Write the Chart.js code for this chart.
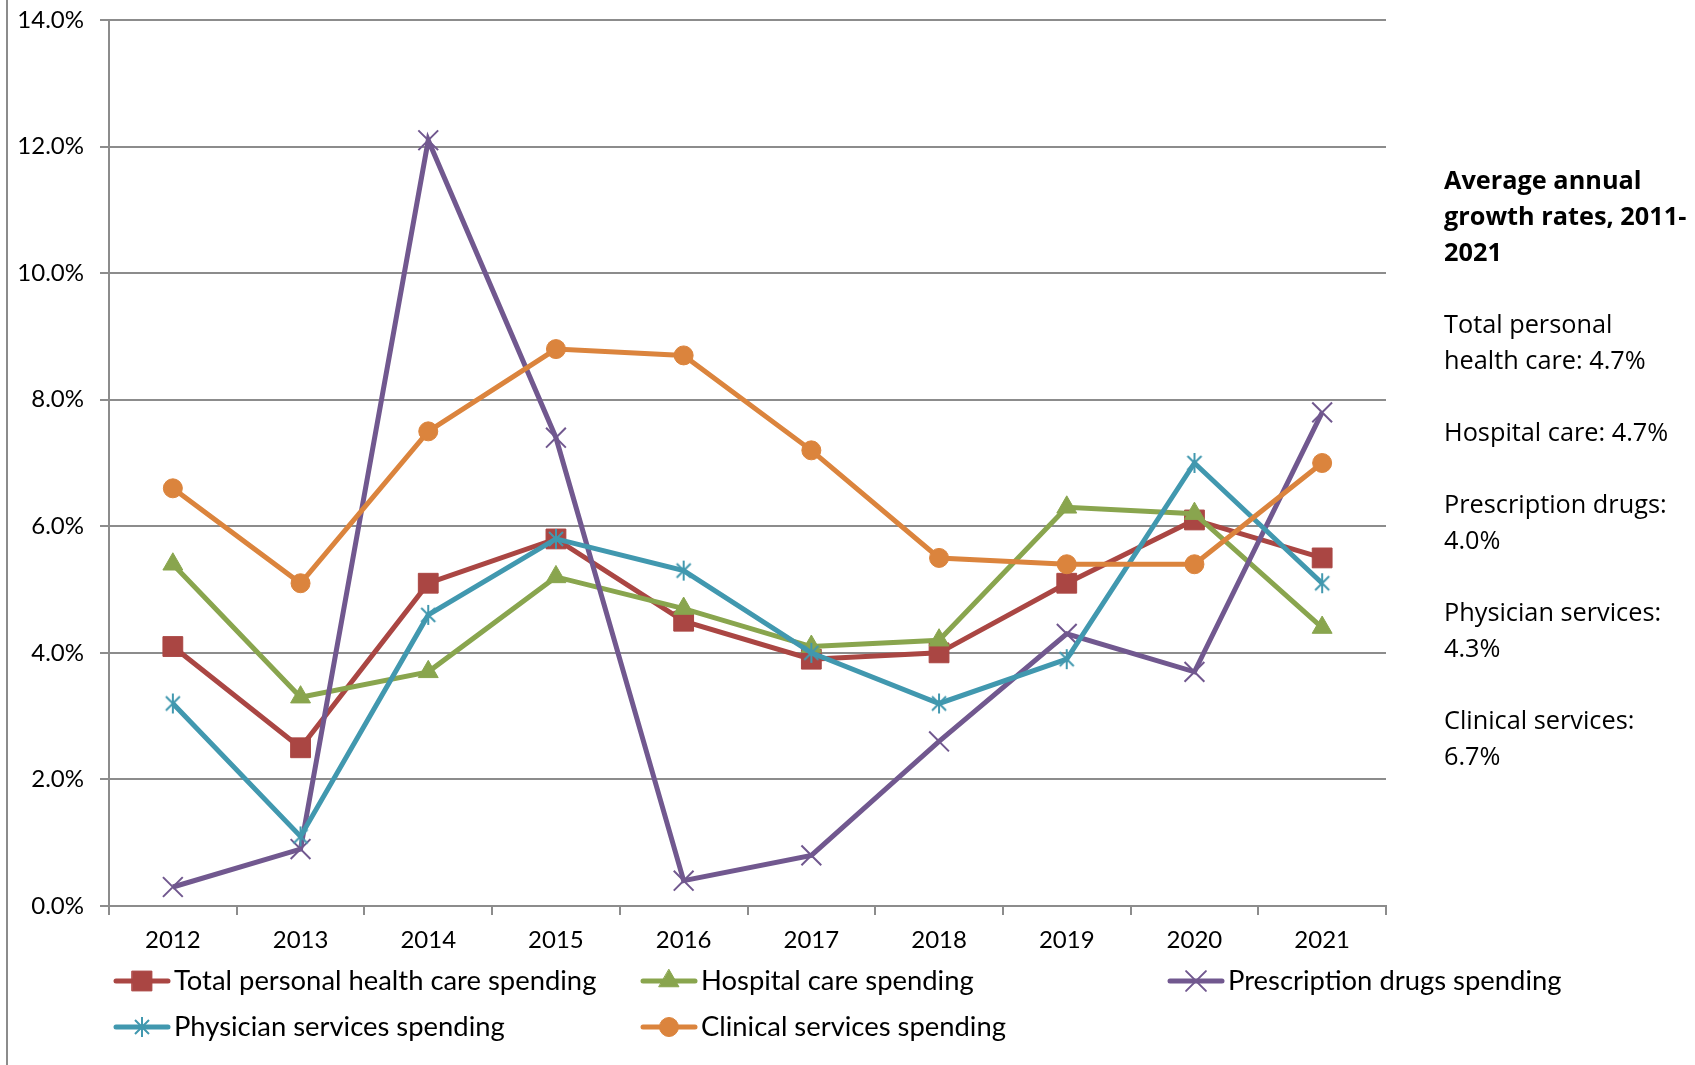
<!DOCTYPE html>
<html>
<head>
<meta charset="utf-8">
<script src="https://cdn.jsdelivr.net/npm/chart.js@4.4.1/dist/chart.umd.min.js"></script>
<style>
  html, body { margin: 0; padding: 0; background: #fff; }
  #wrap { position: relative; width: 1695px; height: 1065px; }
  #growthChart { display: block; }
  #frame { position: absolute; left: 6px; top: 0; width: 0; height: 1065px; border-left: 2px solid #8c8c8c; }
  #note {
    position: absolute; left: 1444px; top: 161px;
    font-family: "Open Sans", sans-serif; font-size: 25.3px; line-height: 36px;
    color: #000; white-space: pre;
  }
  #note b { font-weight: 700; }
</style>
</head>
<body>
<div id="wrap">
  <canvas id="growthChart" width="1695" height="1065"></canvas>
  <div id="frame"></div>
  <div id="note"><b>Average annual
growth rates, 2011-
2021</b>

Total personal
health care: 4.7%

Hospital care: 4.7%

Prescription drugs:
4.0%

Physician services:
4.3%

Clinical services:
6.7%</div>
</div>
<script>
"use strict";

// Chart data
const years = ['2012', '2013', '2014', '2015', '2016', '2017', '2018', '2019', '2020', '2021'];
const totalSpending        = [4.1, 2.5, 5.1, 5.8, 4.5, 3.9, 4.0, 5.1, 6.1, 5.5];
const hospitalSpending     = [5.4, 3.3, 3.7, 5.2, 4.7, 4.1, 4.2, 6.3, 6.2, 4.4];
const prescriptionSpending = [0.3, 0.9, 12.1, 7.4, 0.4, 0.8, 2.6, 4.3, 3.7, 7.8];
const physicianSpending    = [3.2, 1.1, 4.6, 5.8, 5.3, 4.0, 3.2, 3.9, 7.0, 5.1];
const clinicalSpending     = [6.6, 5.1, 7.5, 8.8, 8.7, 7.2, 5.5, 5.4, 5.4, 7.0];
const seriesNames = [
    'Total personal health care spending',
    'Hospital care spending',
    'Prescription drugs spending',
    'Physician services spending',
    'Clinical services spending'
];
const yMin = 0;
const yMax = 14;
const yStep = 2;

const tickFont = { family: 'Lato, "Liberation Sans", sans-serif', size: 24 };
const gridColor = '#8c8c8c';

// Excel style asterisk marker
function makeStar(color) {
    var c = document.createElement('canvas');
    c.width = 22; c.height = 22;
    var g = c.getContext('2d');
    g.strokeStyle = color;
    g.lineWidth = 2;
    g.beginPath();
    g.moveTo(11, 1); g.lineTo(11, 21);
    g.moveTo(4, 4); g.lineTo(18, 18);
    g.moveTo(18, 4); g.lineTo(4, 18);
    g.stroke();
    return c;
}

var colors = ['#AA4643', '#89A54E', '#71588F', '#4198AF', '#DB843D'];
var styles = [
    { pointStyle: 'rect', pointRadius: 14 },
    { pointStyle: 'triangle', pointRadius: 11.5 },
    { pointStyle: 'crossRot', pointRadius: 14, pointBorderWidth: 2 },
    { pointStyle: makeStar(colors[3]), pointRadius: 10 },
    { pointStyle: 'circle', pointRadius: 9.5 }
];
var values = [totalSpending, hospitalSpending, prescriptionSpending, physicianSpending, clinicalSpending];

var datasets = values.map(function (v, i) {
    return Object.assign({
        label: seriesNames[i],
        data: v,
        borderColor: colors[i],
        backgroundColor: colors[i],
        pointBackgroundColor: colors[i],
        pointBorderColor: colors[i],
        pointBorderWidth: 1,
        borderWidth: 5,
        tension: 0,
        order: values.length - i
    }, styles[i]);
});

// legend drawn Excel style: short line with marker, then the label
var excelLegend = {
    id: 'excelLegend',
    afterDraw: function (chart) {
        var ctx = chart.ctx;
        var colX = [116, 643, 1170];
        var rowY = [981, 1027];
        ctx.save();
        chart.data.datasets.forEach(function (ds, i) {
            var x = colX[i % 3];
            var y = rowY[Math.floor(i / 3)];
            ctx.strokeStyle = ds.borderColor;
            ctx.fillStyle = ds.borderColor;
            ctx.lineWidth = 5;
            ctx.lineCap = 'round';
            ctx.beginPath();
            ctx.moveTo(x, y);
            ctx.lineTo(x + 52, y);
            ctx.stroke();
            ctx.lineWidth = ds.pointBorderWidth;
            Chart.helpers.drawPoint(ctx, {
                pointStyle: ds.pointStyle,
                radius: ds.pointRadius,
                rotation: 0,
                borderWidth: ds.pointBorderWidth
            }, x + 26, y);
            ctx.fillStyle = '#000';
            ctx.font = '27.4px Lato, "Liberation Sans", sans-serif';
            ctx.textBaseline = 'middle';
            ctx.fillText(ds.label, x + 58, y);
        });
        ctx.restore();
    }
};

var chart = new Chart(document.getElementById('growthChart'), {
    type: 'line',
    data: { labels: years, datasets: datasets },
    plugins: [excelLegend],
    options: {
        responsive: false,
        animation: false,
        devicePixelRatio: 1,
        layout: { padding: { left: 0, right: 309, top: 20, bottom: 109 } },
        plugins: {
            legend: { display: false },
            tooltip: { enabled: false }
        },
        scales: {
            x: {
                offset: true,
                grid: {
                    offset: true,
                    drawOnChartArea: false,
                    drawTicks: true,
                    tickLength: 9,
                    color: gridColor,
                    lineWidth: 2
                },
                border: { color: gridColor, width: 2 },
                ticks: { color: '#000', font: tickFont, padding: 11, maxRotation: 0 },
                afterFit: function (scale) { scale.height = 50; }
            },
            y: {
                min: yMin,
                max: yMax,
                grid: { color: gridColor, lineWidth: 2, tickLength: 9 },
                border: { color: gridColor, width: 2 },
                ticks: {
                    stepSize: yStep,
                    color: '#000',
                    font: tickFont,
                    padding: 16,
                    callback: function (val) { return val.toFixed(1) + '%'; }
                },
                afterFit: function (scale) {
                    scale.width = 109;
                    scale.paddingTop = 0;
                    scale.paddingBottom = 0;
                }
            }
        }
    }
});
</script>
</body>
</html>
